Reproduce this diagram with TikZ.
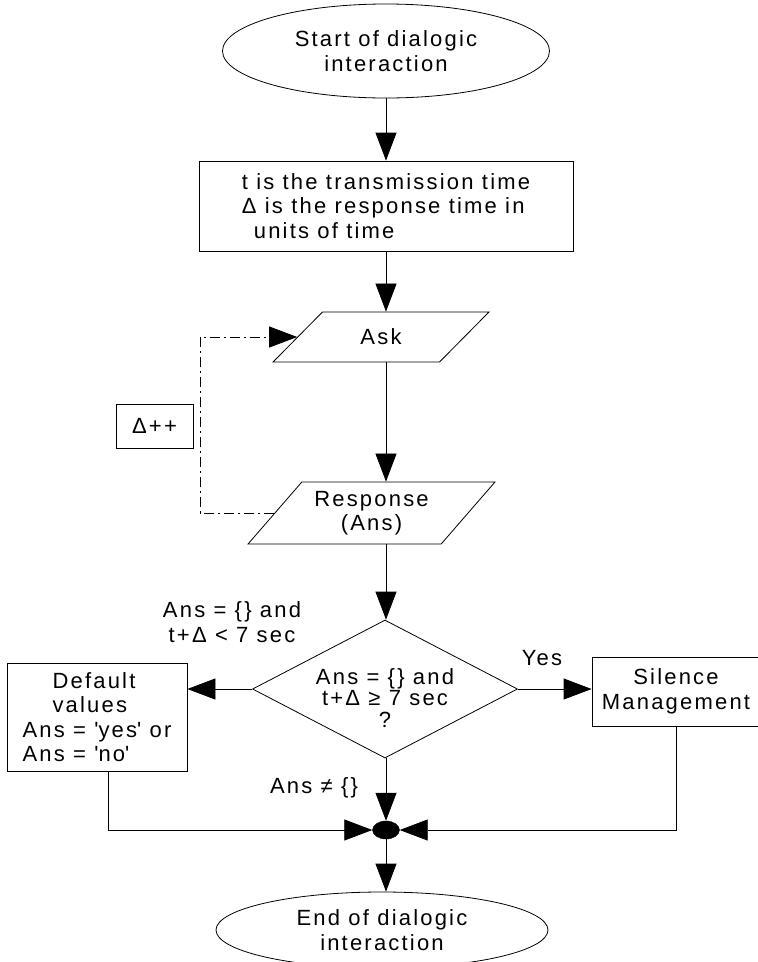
\documentclass[tikz,border=0pt]{standalone}
\usepackage{fontspec}
\setmainfont{Liberation Sans}[LetterSpace=10]
\usetikzlibrary{shapes.geometric,arrows.meta}
\newcommand\squote{\textquotesingle}

\begin{document}
\begin{tikzpicture}
[x=1pt, y=-1pt,
 every node/.style={font=\fontsize{22}{24.5}\selectfont, align=center, inner sep=0pt},
 term/.style={draw, ellipse, line width=0.8pt},
 block/.style={draw, rectangle, line width=0.8pt},
 io/.style={draw, trapezium, trapezium stretches=true, line width=0.8pt},
 decision/.style={draw, diamond, line width=0.8pt},
 arr/.style={-{Triangle[length=28pt,width=21pt]}, line width=0.8pt},
 loopline/.style={arr, dash pattern=on 10pt off 4pt on 2pt off 4pt},
]
\useasboundingbox (0,0) rectangle (758,962);
\def \spinex {386}
\coordinate (spine) at (\spinex,0);
\coordinate (loopx) at (200,0);

% main column
\node[term, minimum width=327pt, minimum height=94pt] (start) at (386,51) {Start of dialogic\\interaction};
\node[block, minimum width=374pt, minimum height=90pt, align=left] (box1) at (386,206)
  {t is the transmission time\\Δ is the response time in\\\hspace*{12pt}units of time};
\node[io, trapezium left angle=43, trapezium right angle=137,
      minimum width=216pt, minimum height=50pt] (ask) at (381,337) {Ask};
\node[io, trapezium left angle=45, trapezium right angle=135,
      minimum width=247pt, minimum height=62pt] (resp) at (371.5,513) {Response\\(Ans)};
\node[decision, minimum width=265pt, minimum height=138pt,
      label={[yshift=-9pt, font=\fontsize{22}{21.5}\selectfont]center:{Ans = \{\} and\\t+Δ ≥ 7 sec\\?}}]
  (diam) at (385,689) {};
\node[draw, ellipse, fill, minimum width=27pt, minimum height=18pt] (merge) at (386,830) {};
\node[term, minimum width=332pt, minimum height=76pt] (end) at (382,930) {End of dialogic\\interaction};

% side boxes
\node[block, minimum width=77pt, minimum height=44pt] (delta) at (154.5,426) {Δ++};
\node[block, minimum width=180pt, minimum height=108pt, align=left] (dflt) at (97,717)
  {\hspace*{30pt}Default\\\hspace*{30pt}values\\Ans = \squote yes\squote{} or\\Ans = \squote no\squote};
\node[block, minimum width=168pt, minimum height=69pt] (silence) at (676,691.5) {Silence\\Management};

% labels
\node (lcond) at (232,622) {Ans = \{\} and\\t+Δ < 7 sec};
\node (yes) at (542,658) {Yes};
\node (nonempty) at (314,788) {Ans ≠ \{\}};

\foreach \a/\b in {start/box1, box1/ask, ask/resp, resp/diam, diam/merge, merge/end}
  \draw[arr] (\a.south -| spine) -- (\b.north -| spine);

\draw[arr] (diam.west) -- (diam.west -| dflt.east);
\draw[arr] (diam.east) -- (diam.east -| silence.west);
\draw[arr] ([xshift=11pt]dflt.south) |- (merge.west);
\draw[arr] (silence.south) |- (merge.east);
% loop back to Ask
\draw[loopline] (resp.west) -- (resp.west -| loopx) -- (ask.west -| loopx) -- (ask.west);
\end{tikzpicture}
\end{document}
